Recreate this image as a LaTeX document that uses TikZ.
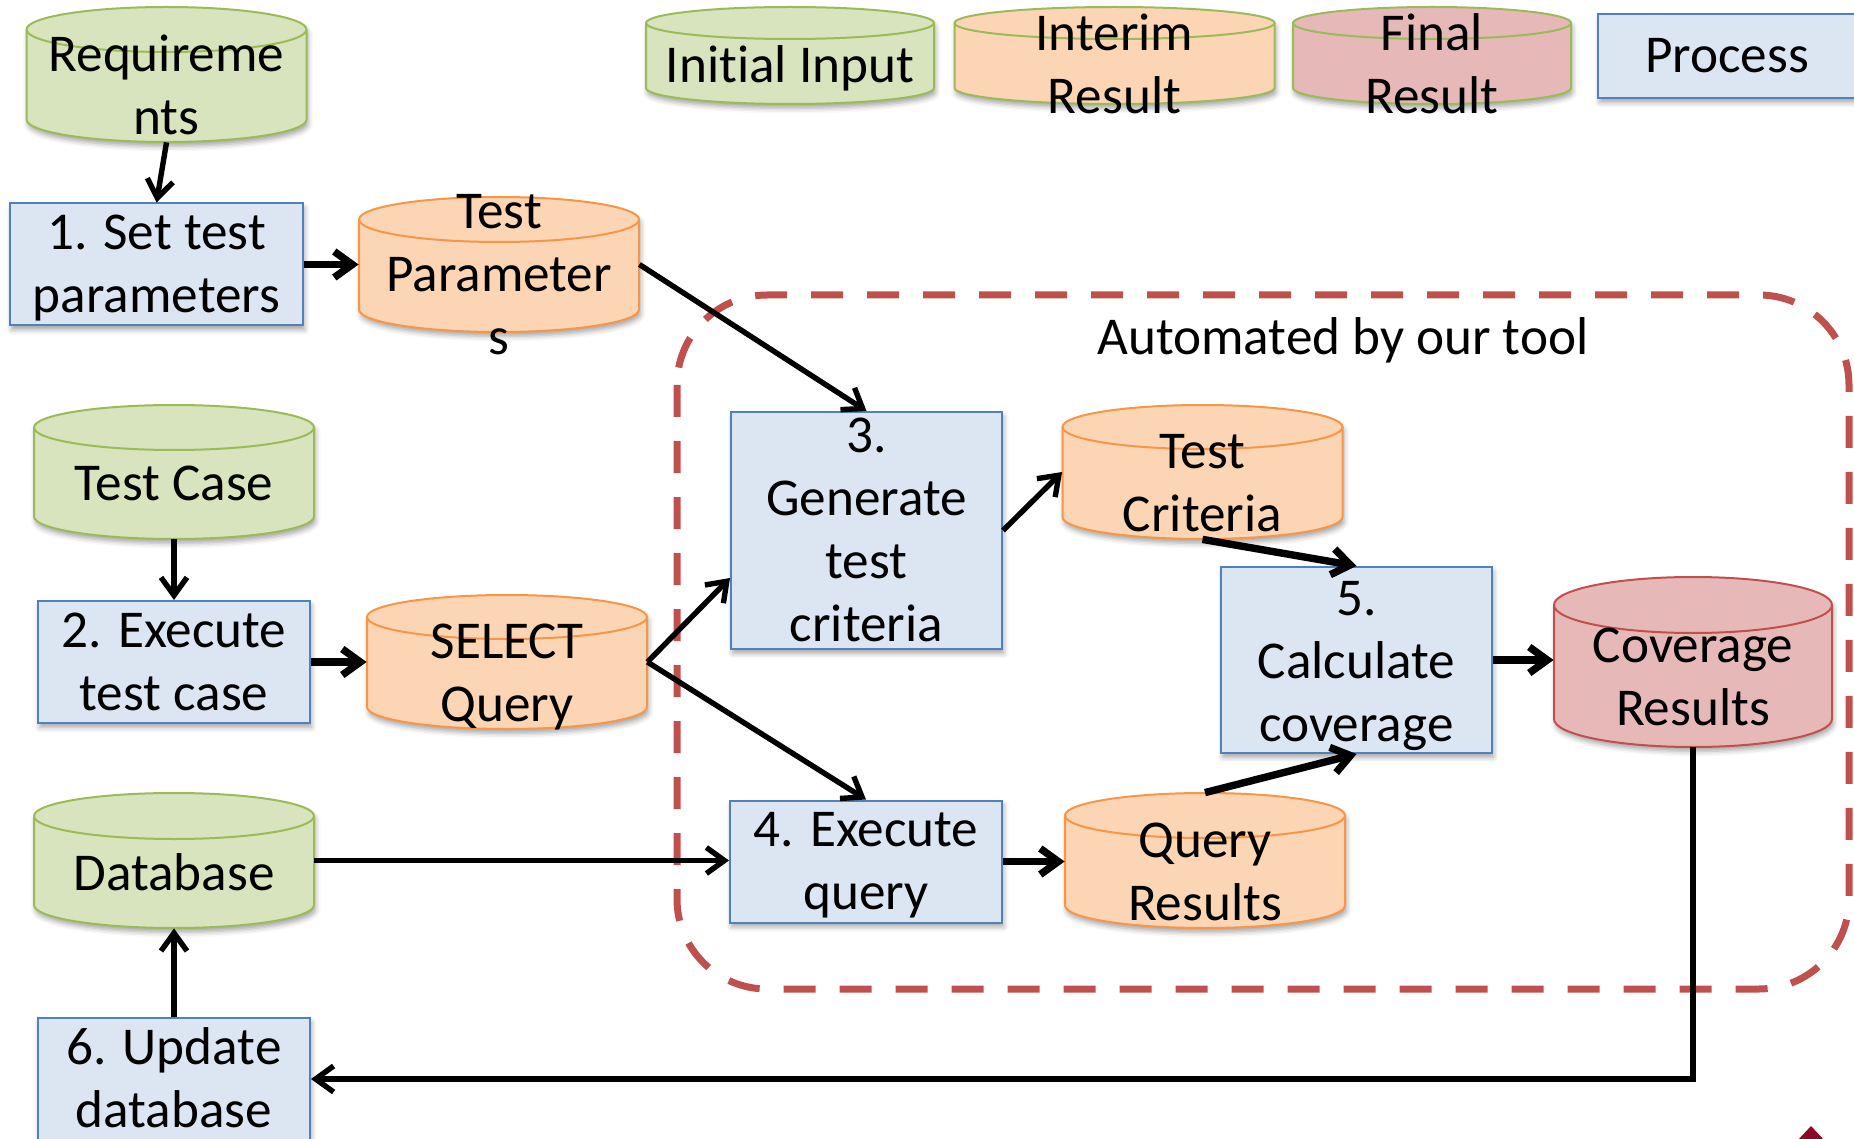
\documentclass[tikz,border=0pt]{standalone}
\usepackage{fontspec}
\setmainfont{Carlito}[Ligatures={NoCommon,NoContextual}]
\usetikzlibrary{arrows.meta,shadows.blur,calc}
\definecolor{gfill}{HTML}{D7E4BD}
\definecolor{gdraw}{HTML}{9BBB59}
\definecolor{ofill}{HTML}{FCD5B5}
\definecolor{odraw}{HTML}{F79646}
\definecolor{rfill}{HTML}{E6B9B8}
\definecolor{rdraw}{HTML}{C0504D}
\definecolor{bfill}{HTML}{DCE6F2}
\definecolor{bdraw}{HTML}{4F81BD}
\definecolor{dred}{HTML}{8C0A28}
\newcommand\mystrut{\rule[-6.5pt]{0pt}{29.5pt}}
% name, cx, top, bottom, half width, ry, fill, draw
\newcommand\cyl[8]{%
  \path[fill=#7, draw=#8, line width=1pt, shadowed]
    (#2-#5,#3+#6) -- (#2-#5,#4-#6)
    .. controls (#2-#5,#4-#6+0.5523*#6) and (#2-0.5523*#5,#4) .. (#2,#4)
    .. controls (#2+0.5523*#5,#4) and (#2+#5,#4-#6+0.5523*#6) .. (#2+#5,#4-#6)
    -- (#2+#5,#3+#6)
    .. controls (#2+#5,#3+#6-0.5523*#6) and (#2+0.5523*#5,#3) .. (#2,#3)
    .. controls (#2-0.5523*#5,#3) and (#2-#5,#3+#6-0.5523*#6) .. (#2-#5,#3+#6) -- cycle;
  \draw[draw=#8, line width=1pt]
    (#2-#5,#3+#6)
    .. controls (#2-#5,#3+#6+0.5523*#6) and (#2-0.5523*#5,#3+2*#6) .. (#2,#3+2*#6)
    .. controls (#2+0.5523*#5,#3+2*#6) and (#2+#5,#3+#6+0.5523*#6) .. (#2+#5,#3+#6);
  \node[inner sep=0pt, minimum width={#5*1pt}, minimum height={(#4-#3)*0.5pt}] (#1) at (#2,{(#3+#4)/2}) {};
}
\tikzset{
  shadowed/.style={blur shadow={shadow xshift=0.8pt, shadow yshift=-2.2pt, shadow blur radius=2.5pt, shadow opacity=35}},
  txt/.style={font=\fontsize{26.6}{31.5}\selectfont, align=center, inner sep=0pt},
  proc/.style={txt, draw=bdraw, fill=bfill, line width=1pt, shadowed},
  conn/.style={line width=2.7pt, -{Straight Barb[length=9pt,width=13pt]}},
  connb/.style={conn, line width=3.7pt},
  autoarea/.style={draw=rdraw, line width=3.5pt, dash pattern=on 16pt off 12pt, rounded corners=45pt},
}
\begin{document}
\begin{tikzpicture}[x=0.5pt, y=-0.5pt]
\useasboundingbox (0,0) rectangle (1854,1139);
\clip (0,0) rectangle (1854,1139);

% automated area
\draw[autoarea] (677,295) rectangle (1849,989);
\node[txt] (auto) at (1343,338.5) {\mystrut Automated by our tool\mystrut};

% legend
\cyl{lgI}{790}{7}{104}{144}{16}{gfill}{gdraw}
\node[txt] (lgI-t) at (790,66.5) {\mystrut Initial Input\mystrut};
\cyl{lgM}{1114.5}{7}{104}{160}{16}{ofill}{gdraw}
\node[txt] (lgM-t) at (1114.5,66) {\mystrut Interim\\Result\mystrut};
\cyl{lgF}{1432}{7}{104}{139}{16}{rfill}{gdraw}
\node[txt] (lgF-t) at (1432,66) {\mystrut Final\\Result\mystrut};
\node[proc, minimum width=129pt, minimum height=42pt] (lgP) at (1727,56) {\mystrut Process\mystrut};

% data stores
\cyl{req}{166.5}{7}{142}{140}{22.5}{gfill}{gdraw}
\node[txt] (req-t) at (166.5,87) {\mystrut Requireme\\nts\mystrut};
\cyl{tp}{499}{197}{332}{140}{22.5}{ofill}{odraw}
\node[txt] (tp-t) at (499,275.5) {\mystrut Test\\Parameter\\s\mystrut};
\cyl{tcase}{174}{405}{539}{140}{22.5}{gfill}{gdraw}
\node[txt] (tcase-t) at (174,484.5) {\mystrut Test Case\mystrut};
\cyl{sel}{507}{595}{729}{140}{22}{ofill}{odraw}
\node[txt] (sel-t) at (507,673) {\mystrut SELECT\\Query\mystrut};
\cyl{db}{174}{793}{928}{140}{23}{gfill}{gdraw}
\node[txt] (db-t) at (174,873.5) {\mystrut Database\mystrut};
\cyl{tcr}{1202.5}{405}{539}{140}{22}{ofill}{odraw}
\node[txt] (tcr-t) at (1202.5,483) {\mystrut Test\\Criteria\mystrut};
\cyl{qr}{1205}{793}{928}{140}{22.5}{ofill}{odraw}
\node[txt] (qr-t) at (1205,872) {\mystrut Query\\Results\mystrut};
\cyl{cov}{1693}{577}{747}{139}{28}{rfill}{rdraw}
\node[txt] (cov-t) at (1693,677) {\mystrut Coverage\\Results\mystrut};

% processes
\node[proc, minimum width=146.5pt, minimum height=60.5pt] (b1) at (156.5,264.5) {\mystrut 1. Set test\\parameters\mystrut};
\node[proc, minimum width=136pt, minimum height=60pt] (b2) at (174,662) {\mystrut 2. Execute\\test case\mystrut};
\node[proc, minimum width=135.5pt, minimum height=118.5pt] (b3) at (866.5,530.5) {};
\node[txt] (b3-t) at (866.5,530) {\mystrut 3.\\Generate\\test\\criteria\mystrut};
\node[proc, minimum width=136pt, minimum height=60.5pt] (b4) at (866,861.5) {\mystrut 4. Execute\\query\mystrut};
\node[proc, minimum width=135.5pt, minimum height=93pt] (b5) at (1356.5,660) {};
\node[txt] (b5-t) at (1356.5,661.5) {\mystrut 5.\\Calculate\\coverage\mystrut};
\node[proc, minimum width=136pt, minimum height=61pt] (b6) at (174,1079) {\mystrut 6. Update\\database\mystrut};

% connectors
\draw[conn] (req.south) -- (b1.north);
\draw[connb] (b1.east) -- (tp.west);
\draw[conn] (tp.east) -- (b3.north);
\draw[conn] (tcase.south) -- (b2.north);
\draw[connb] (b2.east) -- (sel.west);
\draw[conn] (sel.east) -- ([yshift=-23.75pt]b3.west);
\draw[conn] (sel.east) -- (b4.north);
\draw[conn] (b3.east) -- (tcr.west);
\draw[connb] (tcr.south) -- (b5.north);
\draw[connb] (qr.north) -- (b5.south);
\draw[connb] (b5.east) -- (b5.east -| cov.west);
\draw[conn] (db.east) -- (db.east -| b4.west);
\draw[connb] (b4.east) -- (b4.east -| qr.west);
\draw[conn] (b6.north) -- (db.south);
\draw[conn] (cov.south) |- (b6.east);

% fragment in the corner
\fill[dred] (1811,1126) -- (1797,1141) -- (1825,1141) -- cycle;
\end{tikzpicture}
\end{document}
